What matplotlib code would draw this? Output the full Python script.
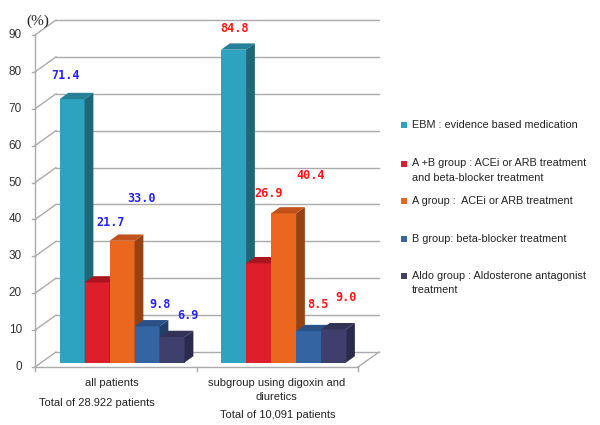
import matplotlib.pyplot as plt
from matplotlib.patches import Polygon, Rectangle

# data
groups = ['all patients', 'subgroup using digoxin and\ndiuretics']
totals = ['Total of 28.922 patients', 'Total of 10,091 patients']
series = ['EBM : evidence based medication',
          'A +B group : ACEi or ARB treatment\nand beta-blocker treatment',
          'A group :  ACEi or ARB treatment',
          'B group: beta-blocker treatment',
          'Aldo group : Aldosterone antagonist\ntreatment']
all_patients = [71.4, 21.7, 33.0, 9.8, 6.9]
digoxin_diuretics = [84.8, 26.9, 40.4, 8.5, 9.0]
y_ticks = list(range(0, 100, 10))

# styles
front = ['#2ea3bf', '#dc1f2b', '#eb661f', '#3464a2', '#3f3f6e']
side = ['#1e6778', '#8c1218', '#974213', '#213f68', '#2a2a4c']
top = ['#25809a', '#a8161f', '#c1521a', '#2a5088', '#33335a']
label_col = ['#2222ff', '#ff1414']
# label offsets in pixels from the top of each bar
label_off = [[(-7, 24), (14, 60), (19, 42), (13, 22), (16, 22)],
             [(1, 21), (10, 70), (27, 38), (9, 27), (13, 32)]]

W, H = 600, 425
fig = plt.figure(figsize=(6, 4.25), dpi=100)
ax = fig.add_axes([35 / W, 58 / H, 323 / W, 332 / H])
ax.set_xlim(0, 2)
ax.set_ylim(0, 90)
ax.axis('off')

px_x = 2 / 323
px_y = 90 / 332
DX, DY = 21 * px_x, 15 * px_y
bar_w = 25 * px_x
f0, f1 = 0.3, 0.72
grid_c = '#ababab'

# walls / gridlines
for v in y_ticks:
    ax.plot([DX, 2 + DX], [v + DY, v + DY], color=grid_c, lw=1, clip_on=False, zorder=1)
    ax.plot([0, DX], [v, v + DY], color=grid_c, lw=1, clip_on=False, zorder=1)
    ax.plot([-3 * px_x, 0], [v, v], color=grid_c, lw=1, clip_on=False, zorder=1)
    ax.annotate(str(v), xy=(0, v), xytext=(-13, 0), textcoords='offset pixels',
                ha='right', va='center', fontsize=8.5, color='#333333',
                family='Liberation Sans', annotation_clip=False)
ax.plot([0, 0], [0, 90], color=grid_c, lw=1, clip_on=False, zorder=1)
ax.plot([0, 2], [0, 0], color=grid_c, lw=1, clip_on=False, zorder=1)
ax.plot([2, 2 + DX], [0, DY], color=grid_c, lw=1, clip_on=False, zorder=1)
for xt in [0, 1, 2]:
    ax.plot([xt, xt], [0, -4 * px_y], color=grid_c, lw=1, clip_on=False, zorder=1)

ax.text(3 * px_x, 90 + 14 * px_y, '(%)', ha='center', va='center', fontsize=11,
        family='Liberation Serif', color='#222222')

# bars
z = 2
for gi, vals in enumerate([all_patients, digoxin_diuretics]):
    c = gi + 0.5
    for i, v in enumerate(vals):
        x0 = c - 2.5 * bar_w + i * bar_w + f0 * DX
        x1 = x0 + bar_w
        y0 = f0 * DY
        ddx, ddy = (f1 - f0) * DX, (f1 - f0) * DY
        ax.add_patch(Rectangle((x0, y0), bar_w, v, facecolor=front[i], edgecolor='none',
                               clip_on=False, zorder=z))
        ax.add_patch(Polygon([(x1, y0), (x1 + ddx, y0 + ddy), (x1 + ddx, y0 + v + ddy), (x1, y0 + v)],
                             closed=True, facecolor=side[i], edgecolor='none', clip_on=False, zorder=z))
        ax.add_patch(Polygon([(x0, y0 + v), (x1, y0 + v), (x1 + ddx, y0 + v + ddy), (x0 + ddx, y0 + v + ddy)],
                             closed=True, facecolor=top[i], edgecolor='none', clip_on=False, zorder=z))
        z += 1
        ax.annotate('%.1f' % v, xy=(x0 + bar_w / 2, y0 + v), xytext=label_off[gi][i],
                    textcoords='offset pixels', ha='center', va='center',
                    color=label_col[gi], fontsize=8.5, family='DejaVu Sans Mono',
                    fontweight='bold', annotation_clip=False, zorder=50)

# category labels
cat_off = [(-4, -16), (-1, -23)]
tot_off = [(-19, -36), (1, -48)]
for gi in range(2):
    ax.annotate(groups[gi], xy=(gi + 0.5, 0), xytext=cat_off[gi], textcoords='offset pixels',
                ha='center', va='center', fontsize=8, family='Liberation Sans',
                color='#222222', linespacing=1.6, annotation_clip=False)
    ax.annotate(totals[gi], xy=(gi + 0.5, 0), xytext=tot_off[gi], textcoords='offset pixels',
                ha='center', va='center', fontsize=8, family='Liberation Sans',
                color='#222222', annotation_clip=False)

# legend
leg_y = [125.3, 163.5, 200.7, 238.7, 276]
for i, lab in enumerate(series):
    y = leg_y[i]
    fig.patches.append(Rectangle((401 / W, 1 - (y + 3) / H), 6 / W, 6 / H,
                                 transform=fig.transFigure, facecolor=front[i], edgecolor='none'))
    for k, line in enumerate(lab.split('\n')):
        fig.text(412 / W, 1 - (y + k * 14.4) / H, line, ha='left', va='center',
                 fontsize=7.8, family='Liberation Sans', color='#222222')

fig.savefig('out.png', dpi=100, facecolor='white')
